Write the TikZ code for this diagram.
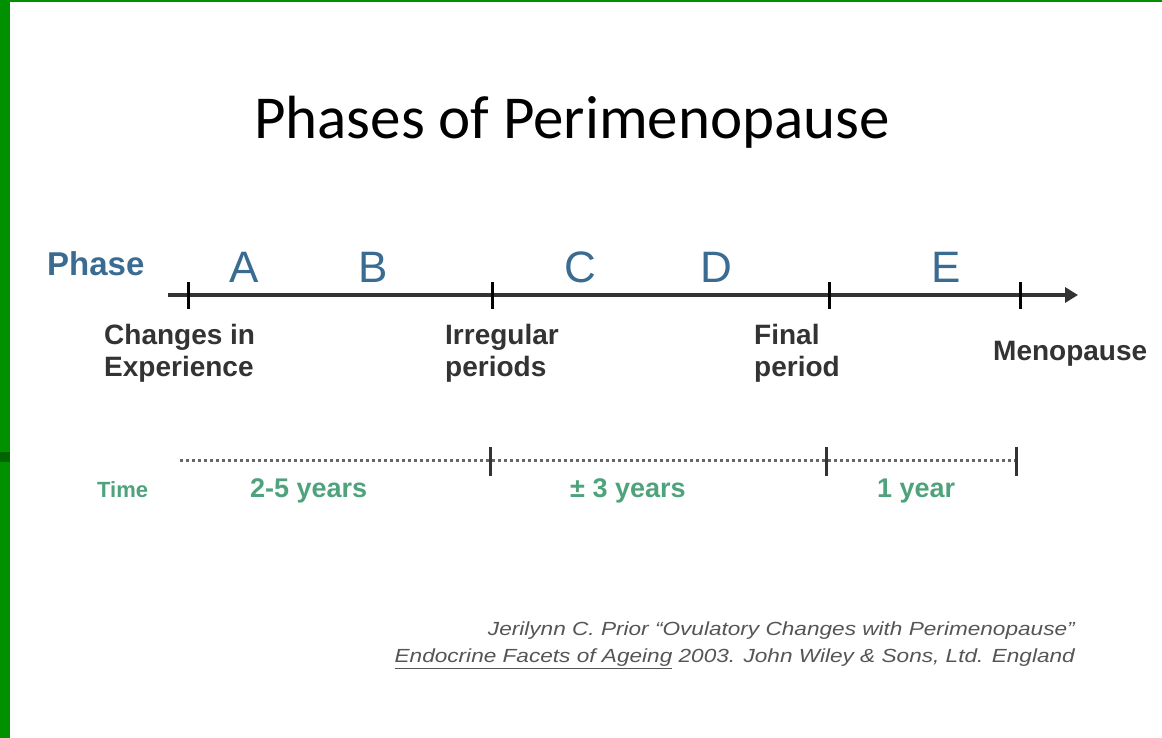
\documentclass[tikz,border=0pt]{standalone}
\usepackage{fontspec}
\setmainfont{Liberation Sans}
\newfontfamily\titlefont{Carlito}
\usetikzlibrary{arrows.meta}
\definecolor{phaseblue}{HTML}{3A6C92}
\definecolor{timegreen}{HTML}{4FA37C}
\definecolor{frame}{HTML}{009000}
\definecolor{axis}{HTML}{333333}
\definecolor{cite}{HTML}{555555}
\tikzset{
  lettr/.style={font=\fontsize{44}{44}\selectfont, text=phaseblue, anchor=base, inner sep=0pt},
  evlabel/.style={font=\bfseries\fontsize{28}{32}\selectfont, text=axis, anchor=north west, align=left, inner sep=0pt},
  timelabel/.style={font=\bfseries\fontsize{27}{27}\selectfont, text=timegreen, anchor=base west, inner sep=0pt},
  tick/.style={line width=3pt, black},
  dottick/.style={line width=3pt, axis},
}
\begin{document}
\begin{tikzpicture}[x=1pt,y=-1pt]
\useasboundingbox (0,0) rectangle (1162,738);
\fill[white] (0,0) rectangle (1162,738);
% frame
\fill[frame] (0,0) rectangle (1162,2.5);
\fill[frame] (0,0) rectangle (10,738);
\fill[frame!70!black] (0,452) rectangle (10,462);
% title
\node[font=\titlefont\fontsize{61}{61}\selectfont, anchor=base, inner sep=0pt] (title) at (572,139) {Phases of Perimenopause};
% phase row
\node[font=\bfseries\fontsize{33}{33}\selectfont, text=phaseblue, anchor=base west, inner sep=0pt] (phase) at (47,276) {Phase};
\node[lettr] (A) at (244,282) {A};
\node[lettr] (B) at (373,282) {B};
\node[lettr] (C) at (580,282) {C};
\node[lettr] (D) at (716,282) {D};
\node[lettr] (E) at (946,282) {E};
% main axis
\coordinate (s) at (168,295);
\coordinate (e) at (1078,295);
\coordinate (t1) at (188,295);
\coordinate (t2) at (492,295);
\coordinate (t3) at (829,295);
\coordinate (t4) at (1020,295);
\draw[line width=4pt, axis, -{Triangle[length=13pt,width=15pt]}] (s) -- (e);
\foreach \t in {t1,t2,t3,t4} \draw[tick] ([yshift=-14pt]\t) -- ([yshift=13pt]\t);
% event labels
\node[evlabel] (ev1) at (104,324) {Changes in\\Experience};
\node[evlabel] (ev2) at (445,324) {Irregular\\periods};
\node[evlabel] (ev3) at (754,324) {Final\\period};
\node[evlabel, anchor=base west] (ev4) at (993,360) {Menopause};
% time row
\coordinate (d0) at (180,460);
\coordinate (d1) at (490,460);
\coordinate (d2) at (826,460);
\coordinate (d3) at (1016,460);
\draw[line width=3pt, axis!75, dash pattern=on 3pt off 3pt] (d0) -- (d3);
\foreach \t in {d1,d2,d3} \draw[dottick] ([yshift=-16pt]\t) -- ([yshift=13pt]\t);
\node[font=\bfseries\fontsize{22}{22}\selectfont, text=timegreen, anchor=base west, inner sep=0pt] (time) at (97,497) {Time};
\node[timelabel] (y1) at (250,497) {2-5 years};
\node[timelabel] (y2) at (570,497) {± 3 years};
\node[timelabel] (y3) at (877,497) {1 year};
% citation
\node[font=\itshape\fontsize{19}{27}\selectfont, text=cite, anchor=north east, align=right, inner sep=0pt] (cit) at (1075,622)
  {\scalebox{1.19}[1]{Jerilynn C. Prior ``Ovulatory Changes with Perimenopause''}\\
   \scalebox{1.19}[1]{\underline{Endocrine Facets of Ageing} 2003. John Wiley \& Sons, Ltd. England}};
\end{tikzpicture}
\end{document}
